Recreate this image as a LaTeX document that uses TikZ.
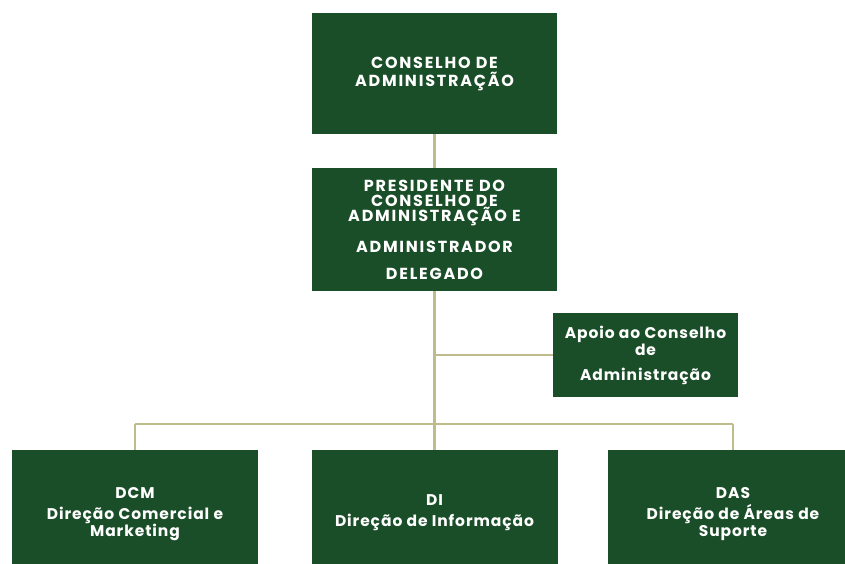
\documentclass[tikz,border=0pt]{standalone}
\usepackage{fontspec}
\setmainfont{Poppins}
\newfontfamily\capsfont[LetterSpace=11]{Poppins}
\newfontfamily\boxfont[LetterSpace=6]{Poppins}
\definecolor{boxgreen}{RGB}{26,78,40}
\definecolor{linkolive}{RGB}{190,187,140}

\begin{document}
\begin{tikzpicture}[x=1pt,y=-1pt,
    orgbox/.style={fill=boxgreen,text=white,align=center,inner sep=0pt,
      font=\boxfont\bfseries\fontsize{15.5}{17}\selectfont},
    capsbox/.style={orgbox,font=\capsfont\bfseries\fontsize{16}{15}\selectfont},
    link/.style={draw=linkolive,line width=2.5pt}]
      \useasboundingbox[fill=white] (0,0) rectangle (845,564);

      \coordinate (hub) at (434.5,424);
      \coordinate (lft) at (135,424);
      \coordinate (rgt) at (733,424);

      \node[capsbox,minimum width=245pt,minimum height=121pt] (cons) at (434.5,73.5)
        {CONSELHO DE\\[3pt]ADMINISTRAÇÃO};
      \node[capsbox,minimum width=245pt,minimum height=123pt] (pres) at (434.5,229.5)
        {PRESIDENTE DO\\CONSELHO DE\\ADMINISTRAÇÃO E\\[14pt]ADMINISTRADOR\\[12pt]DELEGADO};
      \node[orgbox,minimum width=185pt,minimum height=84pt] (apoio) at (645.5,355)
        {Apoio ao Conselho\\de\\[8pt]Administração};

      \node[orgbox,minimum width=246pt,minimum height=128pt] (dcm) at (135,514)
        {DCM\\[4pt]Direção Comercial e\\Marketing};
      \node[orgbox,minimum width=246pt,minimum height=126pt] (di) at (434.5,513)
        {DI\\[4pt]Direção de Informação};
      \node[orgbox,minimum width=250pt,minimum height=128pt] (das) at (733,514)
        {DAS\\[4pt]Direção de Áreas de\\Suporte};

      \draw[link] (cons) -- (pres);
      \draw[link] (pres) -- (hub);
      \draw[link] (apoio.west) -- (apoio.west -| hub);
      \draw[link] (lft) -- (rgt);
      \draw[link] (lft) -- (dcm);
      \draw[link] (hub) -- (di);
      \draw[link] (rgt) -- (das);
\end{tikzpicture}
\end{document}
